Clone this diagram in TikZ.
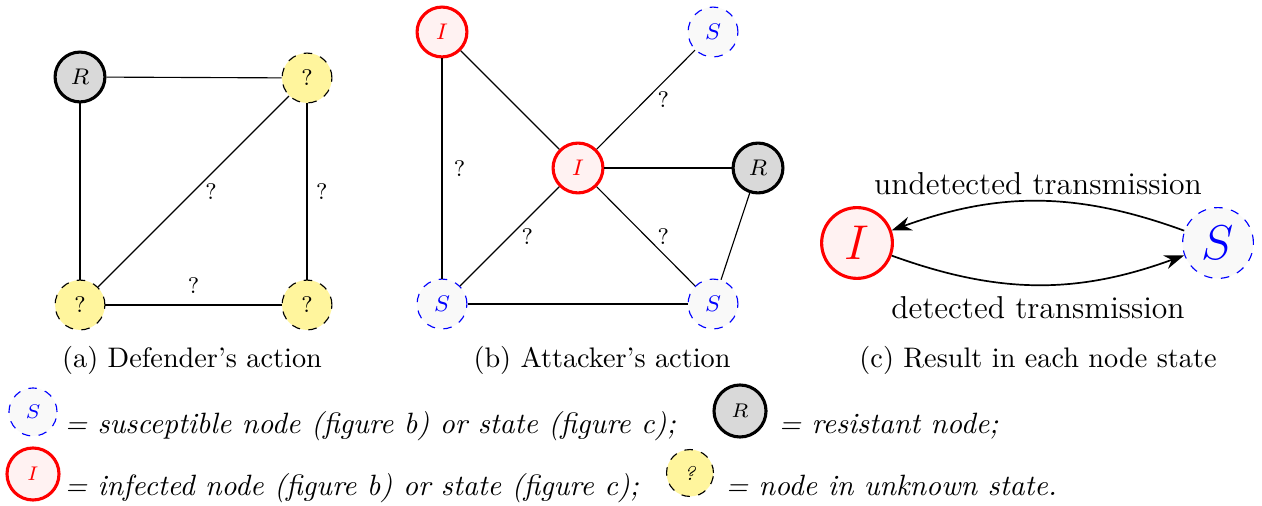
\documentclass[tikz,border=0pt]{standalone}
\usepackage{amsmath,amssymb}
\usepackage{xcolor}
\usepackage{tikz}
\usetikzlibrary{arrows.meta,shapes.geometric}

\definecolor{unkfill}{RGB}{255,245,157}

\begin{document}
\begin{tikzpicture}[
    x=0.01244cm, y=-0.01244cm,
    vtx/.style={circle, minimum size=0.62cm, inner sep=0pt, font=\footnotesize},
    res/.style={vtx, draw=black, line width=1.1pt, fill=gray!30},
    inf/.style={vtx, draw=red, line width=1.1pt, fill=red!5, text=red},
    sus/.style={vtx, draw=blue, dashed, fill=gray!5, text=blue},
    unk/.style={vtx, draw=black, dashed, fill=unkfill},
    lbl/.style={inner sep=1pt, font=\footnotesize},
    big/.style={minimum size=0.88cm, font=\LARGE},
    trans/.style={font=\fontsize{11.2}{13}\selectfont, inner sep=2pt},
    key/.style={font=\scriptsize},
    keytext/.style={anchor=base west, inner sep=0pt, font=\fontsize{10.4}{12}\selectfont\itshape},
    arr/.style={-{Stealth[length=7pt,width=5pt]}, semithick}
]
\useasboundingbox (0,0) rectangle (1262,506);

% (a) Defender's action
\node[res] (aR) at (80,77) {$R$};
\node[unk] (aTR) at (307,78) {?};
\node[unk] (aBL) at (80,305) {?};
\node[unk] (aBR) at (307,305) {?};
\draw (aR) -- (aTR);
\draw (aR) -- (aBL);
\draw (aTR) -- node[lbl, right=3pt] {?} (aBL);
\draw (aTR) -- node[lbl, right=2pt] {?} (aBR);
\draw (aBL) -- node[lbl, above=3pt] {?} (aBR);
\node (capA) at (192,360) {(a) Defender's action};

% (b) Attacker's action
\node[inf] (bItl) at (442,32) {$I$};
\node[sus] (bStr) at (713,32) {$S$};
\node[inf] (bIc) at (578,168) {$I$};
\node[res] (bR) at (758,168) {$R$};
\node[sus] (bSbl) at (442,304) {$S$};
\node[sus] (bSbr) at (713,304) {$S$};
\draw (bItl) -- (bIc);
\draw (bItl) -- node[lbl, right=3pt] {?} (bSbl);
\draw (bIc) -- node[lbl, right=3pt] {?} (bStr);
\draw (bIc) -- (bR);
\draw (bIc) -- node[lbl, right=3pt] {?} (bSbl);
\draw (bIc) -- node[lbl, right=3pt] {?} (bSbr);
\draw (bSbl) -- (bSbr);
\draw (bR) -- (bSbr);
\node (capB) at (602,360) {(b) Attacker's action};

% (c) Result in each node state
\node[inf, big] (cI) at (857,243) {$I$};
\node[sus, big] (cS) at (1218,243) {$S$};
\draw[arr] (cS) to[bend right=20] node[trans, above] {undetected transmission} (cI);
\draw[arr] (cI) to[bend right=20] node[trans, below=2pt] {detected transmission} (cS);
\node (capC) at (1038,360) {(c) Result in each node state};

% legend
\node[sus, key, minimum size=17pt] (kS) at (33,412) {$S$};
\node[keytext] (tS) at (64,434) {= susceptible node (figure b) or state (figure c);};
\node[res, key, minimum size=18.4pt] (kR) at (740,411) {$R$};
\node[keytext] (tR) at (778,434) {= resistant node;};
\node[inf, key, minimum size=18.4pt] (kI) at (33,474) {$I$};
\node[keytext] (tI) at (64,496) {= infected node (figure b) or state (figure c);};
\node[unk, key, minimum size=16.6pt] (kU) at (690,473) {\textit{?}};
\node[keytext] (tU) at (725,496) {= node in unknown state.};
\end{tikzpicture}
\end{document}
